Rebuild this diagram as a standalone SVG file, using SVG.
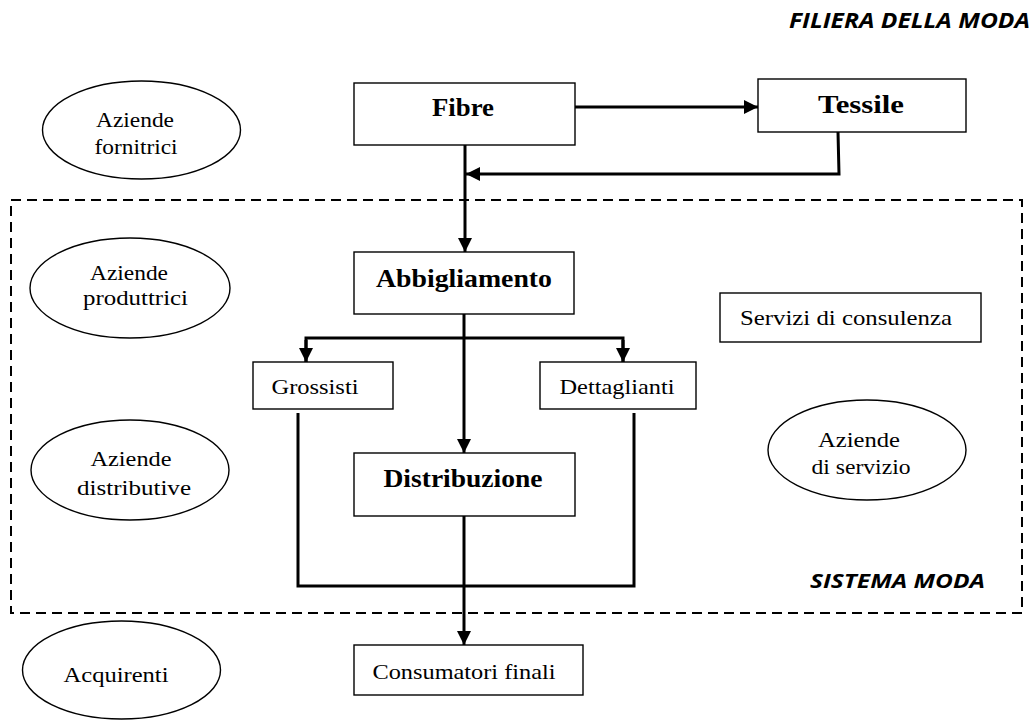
<svg xmlns="http://www.w3.org/2000/svg" width="1032" height="720" viewBox="0 0 1032 720">
  <style>
    .box { fill: #fff; stroke: #000; stroke-width: 1.4; }
    .ell { fill: #fff; stroke: #000; stroke-width: 1.4; }
    .lbl { font-family: "Liberation Serif", "Times New Roman", serif; font-size: 22px; fill: #000; text-anchor: middle; }
    .bold { font-family: "Liberation Serif", "Times New Roman", serif; font-size: 26px; font-weight: bold; fill: #000; text-anchor: middle; }
    .title { font-family: "Open Sans", "Liberation Sans", sans-serif; font-weight: bold; font-style: italic; fill: #000; }
    .wire { fill: none; stroke: #000; stroke-width: 3; }
    .frame { fill: none; stroke: #000; stroke-width: 2; stroke-dasharray: 10 6; }
  </style>
  <defs>
    <marker id="arrow" viewBox="0 0 10 10" refX="10" refY="5" markerWidth="14" markerHeight="14" markerUnits="userSpaceOnUse" orient="auto">
      <path d="M0,0 L10,5 L0,10 Z" fill="#000"/>
    </marker>
  </defs>

  <rect width="1032" height="720" fill="#fff"/>

  <!-- titles -->
  <text class="title" x="789" y="28" font-size="21" textLength="241" lengthAdjust="spacingAndGlyphs">FILIERA DELLA MODA</text>

  <!-- boundary of the fashion system -->
  <g id="sistema-moda">
    <rect class="frame" x="11" y="200" width="1011" height="413"/>
    <text class="title" x="810" y="588" font-size="19" textLength="175" lengthAdjust="spacingAndGlyphs">SISTEMA MODA</text>
  </g>

  <!-- connectors -->
  <g id="connectors">
    <line class="wire" x1="575" y1="107" x2="758" y2="107" marker-end="url(#arrow)"/>
    <polyline class="wire" points="838,132 839,174 466,174" marker-end="url(#arrow)"/>
    <line class="wire" x1="465" y1="145" x2="465" y2="252" marker-end="url(#arrow)"/>
    <line class="wire" x1="464" y1="314" x2="464" y2="453" marker-end="url(#arrow)"/>
    <polyline class="wire" points="306,362 306,338 623,338 623,362"/>
    <line class="wire" x1="306" y1="340" x2="306" y2="362" marker-end="url(#arrow)"/>
    <line class="wire" x1="623" y1="340" x2="623" y2="362" marker-end="url(#arrow)"/>
    <polyline class="wire" points="298,413 298,586 634,586 634,413"/>
    <line class="wire" x1="464" y1="516" x2="464" y2="645" marker-end="url(#arrow)"/>
  </g>

  <!-- value chain boxes -->
  <g id="fibre">
    <rect class="box" x="354" y="83" width="221" height="62"/>
    <text class="bold" x="463" y="116" textLength="62" lengthAdjust="spacingAndGlyphs">Fibre</text>
  </g>
  <g id="tessile">
    <rect class="box" x="758" y="79" width="208" height="53"/>
    <text class="bold" x="861" y="113" textLength="86" lengthAdjust="spacingAndGlyphs">Tessile</text>
  </g>
  <g id="abbigliamento">
    <rect class="box" x="354" y="252" width="220" height="62"/>
    <text class="bold" x="464" y="287" textLength="176" lengthAdjust="spacingAndGlyphs">Abbigliamento</text>
  </g>
  <g id="grossisti">
    <rect class="box" x="253" y="362" width="140" height="47"/>
    <text class="lbl" x="315" y="394" font-size="23" textLength="87" lengthAdjust="spacingAndGlyphs">Grossisti</text>
  </g>
  <g id="dettaglianti">
    <rect class="box" x="540" y="362" width="156" height="47"/>
    <text class="lbl" x="617" y="394" font-size="23" textLength="115" lengthAdjust="spacingAndGlyphs">Dettaglianti</text>
  </g>
  <g id="distribuzione">
    <rect class="box" x="354" y="453" width="221" height="63"/>
    <text class="bold" x="463" y="487" textLength="159" lengthAdjust="spacingAndGlyphs">Distribuzione</text>
  </g>
  <g id="consumatori-finali">
    <rect class="box" x="354" y="645" width="229" height="50"/>
    <text class="lbl" x="464" y="679" font-size="23" textLength="183" lengthAdjust="spacingAndGlyphs">Consumatori finali</text>
  </g>
  <g id="servizi-consulenza">
    <rect class="box" x="720" y="293" width="261" height="49"/>
    <text class="lbl" x="846" y="325" font-size="23" textLength="212" lengthAdjust="spacingAndGlyphs">Servizi  di consulenza</text>
  </g>

  <!-- company categories -->
  <g id="aziende-fornitrici">
    <ellipse class="ell" cx="141.5" cy="130" rx="99" ry="49"/>
    <text class="lbl" x="135" y="127" textLength="78" lengthAdjust="spacingAndGlyphs">Aziende</text>
    <text class="lbl" x="136" y="154" textLength="83" lengthAdjust="spacingAndGlyphs">fornitrici</text>
  </g>
  <g id="aziende-produttrici">
    <ellipse class="ell" cx="130" cy="288" rx="100" ry="50"/>
    <text class="lbl" x="129" y="280" textLength="78" lengthAdjust="spacingAndGlyphs">Aziende</text>
    <text class="lbl" x="135.5" y="305" textLength="105" lengthAdjust="spacingAndGlyphs">produttrici</text>
  </g>
  <g id="aziende-distributive">
    <ellipse class="ell" cx="130" cy="470" rx="99" ry="50"/>
    <text class="lbl" x="131" y="466" textLength="81" lengthAdjust="spacingAndGlyphs">Aziende</text>
    <text class="lbl" x="134" y="495" textLength="114" lengthAdjust="spacingAndGlyphs">distributive</text>
  </g>
  <g id="acquirenti">
    <ellipse class="ell" cx="121.5" cy="670" rx="99" ry="49"/>
    <text class="lbl" x="116" y="682" textLength="105" lengthAdjust="spacingAndGlyphs">Acquirenti</text>
  </g>
  <g id="aziende-servizio">
    <ellipse class="ell" cx="867" cy="450" rx="99" ry="50"/>
    <text class="lbl" x="859" y="447" textLength="82" lengthAdjust="spacingAndGlyphs">Aziende</text>
    <text class="lbl" x="861" y="474" textLength="99" lengthAdjust="spacingAndGlyphs">di servizio</text>
  </g>
</svg>
